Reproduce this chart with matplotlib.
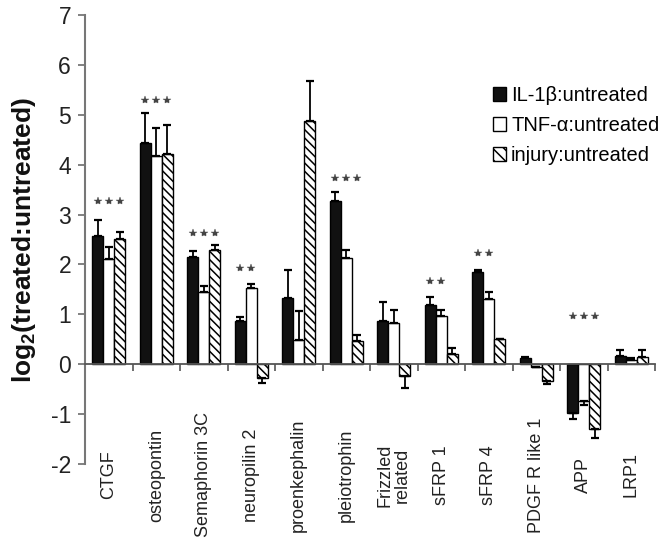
import matplotlib
matplotlib.use("Agg")
import matplotlib.pyplot as plt
import numpy as np
from matplotlib.patches import Patch

plt.rcParams['font.family'] = ['Liberation Sans', 'DejaVu Sans']
plt.rcParams['mathtext.fontset'] = 'custom'
plt.rcParams['mathtext.rm'] = 'Liberation Sans:bold'
plt.rcParams['mathtext.bf'] = 'Liberation Sans:bold'
plt.rcParams['hatch.linewidth'] = 1.1

categories = ["CTGF", "osteopontin", "Semaphorin 3C", "neuropilin 2", "proenkephalin",
              "pleiotrophin", "Frizzled\nrelated", "sFRP 1", "sFRP 4", "PDGF R like 1",
              "APP", "LRP1"]
series_names = ["IL-1β:untreated", "TNF-α:untreated", "injury:untreated"]

il1 = [2.58, 4.43, 2.15, 0.87, 1.33, 3.28, 0.87, 1.19, 1.85, 0.12, -0.97, 0.17]
il1_err = [0.32, 0.60, 0.12, 0.08, 0.56, 0.18, 0.38, 0.16, 0.03, 0.03, 0.12, 0.11]
tnf = [2.11, 4.18, 1.45, 1.53, 0.48, 2.13, 0.82, 0.97, 1.31, -0.06, -0.74, 0.08]
tnf_err = [0.24, 0.55, 0.12, 0.08, 0.58, 0.16, 0.27, 0.12, 0.14, 0.0, 0.07, 0.05]
inj = [2.51, 4.22, 2.29, -0.28, 4.88, 0.46, -0.24, 0.20, 0.50, -0.33, -1.29, 0.14]
inj_err = [0.15, 0.57, 0.10, 0.10, 0.80, 0.12, 0.23, 0.12, 0.0, 0.07, 0.18, 0.14]

# significance flags per series and annotation heights per category
il1_sig = [1, 1, 1, 1, 0, 1, 0, 1, 1, 0, 1, 0]
tnf_sig = [1, 1, 1, 1, 0, 1, 0, 1, 1, 0, 1, 0]
inj_sig = [1, 1, 1, 0, 0, 1, 0, 0, 0, 0, 1, 0]
star_y = [3.28, 5.30, 2.64, 1.93, 0, 3.74, 0, 1.67, 2.23, 0, 0.97, 0]

yticks = [-2, -1, 0, 1, 2, 3, 4, 5, 6, 7]

fig = plt.figure(figsize=(6.66, 5.38), dpi=100)
ax = fig.add_axes([85/666, 74/538, 570/666, 449/538])

x = np.arange(len(categories))
w = 0.23
vals = [il1, tnf, inj]
errs = [il1_err, tnf_err, inj_err]
sigs = [il1_sig, tnf_sig, inj_sig]
styles = [dict(facecolor='#111111', hatch=None),
          dict(facecolor='white', hatch=None),
          dict(facecolor='white', hatch='\\\\\\\\')]

for k in range(3):
    v = np.array(vals[k])
    e = np.array(errs[k])
    pos = x + (k - 1) * w
    ax.bar(pos, v, width=w, edgecolor='black', linewidth=1.0, zorder=2, **styles[k])
    lower = np.where(v < 0, e, 0)
    upper = np.where(v >= 0, e, 0)
    ax.errorbar(pos, v, yerr=[lower, upper], fmt='none', ecolor='black',
                elinewidth=1.3, capsize=3, capthick=1.6, zorder=3)
    sx = [pos[i] for i in range(len(x)) if sigs[k][i]]
    sy = [star_y[i] for i in range(len(x)) if sigs[k][i]]
    ax.plot(sx, sy, linestyle='none', marker='*', markersize=6, color='#444444',
            markeredgewidth=0.3, zorder=4)

ax.set_xlim(-0.5, len(categories) - 0.5)
ax.set_ylim(-2, 7)

for s in ['top', 'right']:
    ax.spines[s].set_visible(False)
ax.spines['left'].set_color('#777777')
ax.spines['left'].set_linewidth(1.5)
ax.spines['bottom'].set_position(('data', 0))
ax.spines['bottom'].set_color('#555555')
ax.spines['bottom'].set_linewidth(1.3)

ax.set_xticks(np.arange(-0.5, len(categories)))
ax.set_xticklabels([])
ax.tick_params(axis='x', direction='out', length=5, width=1.2, color='#555555')
ax.set_yticks(yticks)
ax.set_yticklabels([str(t) for t in yticks])
ax.tick_params(axis='y', direction='out', length=5, width=1.3, color='#777777',
               labelsize=16.5, labelcolor='#222222', pad=5)

for i, name in enumerate(categories):
    ax.text(x[i], -2.22, name, rotation=90, ha='center', va='center',
            multialignment='center', fontsize=13, color='#222222', clip_on=False,
            linespacing=1.0)

ax.set_ylabel(r'log$_2$(treated:untreated)', fontsize=19, fontweight='bold', color='#111111')
ax.yaxis.set_label_coords(-0.082, 0.499)

handles = [Patch(facecolor='#111111', edgecolor='black'),
           Patch(facecolor='white', edgecolor='black'),
           Patch(facecolor='white', edgecolor='black', hatch='\\\\\\')]
fig.legend(handles, series_names, loc='upper left', bbox_to_anchor=(493/666, 1 - 86/538),
           frameon=False, fontsize=14.5, handlelength=0.65, handleheight=0.65,
           handletextpad=0.25, labelspacing=0.55, borderpad=0, borderaxespad=0)

fig.savefig('out.png', dpi=100)
